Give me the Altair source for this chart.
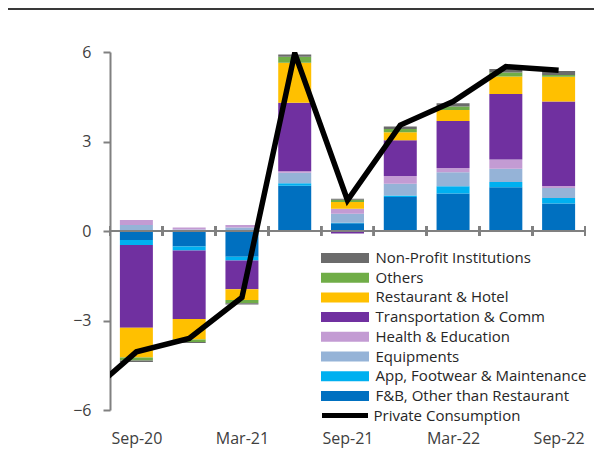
import json
import altair as alt
import pandas as pd

# ---- data ----
periods = ["Sep-20", "Dec-20", "Mar-21", "Jun-21", "Sep-21", "Dec-21", "Mar-22", "Jun-22", "Sep-22"]
shown_labels = ["Sep-20", "Mar-21", "Sep-21", "Mar-22", "Sep-22"]

fnb = [-0.30, -0.52, -0.86, 1.52, 0.26, 1.14, 1.26, 1.47, 0.92]
apparel = [-0.17, -0.13, -0.13, 0.08, 0.02, 0.05, 0.24, 0.17, 0.19]
equipments = [0.20, 0.05, 0.12, 0.35, 0.30, 0.39, 0.47, 0.45, 0.33]
health_edu = [0.17, 0.07, 0.08, 0.05, 0.17, 0.26, 0.14, 0.31, 0.07]
transport = [-2.77, -2.30, -0.96, 2.30, -0.08, 1.20, 1.58, 2.19, 2.83]
restaurant = [-1.00, -0.69, -0.36, 1.34, 0.22, 0.27, 0.37, 0.59, 0.83]
others = [-0.10, -0.08, -0.11, 0.20, 0.08, 0.11, 0.11, 0.13, 0.06]
non_profit = [-0.05, -0.03, -0.04, 0.08, 0.03, 0.08, 0.11, 0.12, 0.13]

line_periods = ["Jun-20", "Sep-20", "Dec-20", "Mar-21", "Jun-21", "Sep-21", "Dec-21", "Mar-22", "Jun-22", "Sep-22"]
private_consumption = [-5.60, -4.05, -3.60, -2.23, 5.96, 1.03, 3.55, 4.34, 5.51, 5.39]

# stacking order (bottom first) and legend order (top first)
components = [
    ("F&B, Other than Restaurant", fnb, "#0070C0"),
    ("App, Footwear & Maintenance", apparel, "#00B0F0"),
    ("Equipments", equipments, "#95B3D7"),
    ("Health & Education", health_edu, "#C39BD3"),
    ("Transportation & Comm", transport, "#7030A0"),
    ("Restaurant & Hotel", restaurant, "#FFC000"),
    ("Others", others, "#70AD47"),
    ("Non-Profit Institutions", non_profit, "#6B6B6B"),
]

rows = []
for rank, (name, vals, _c) in enumerate(components):
    for i, (p, v) in enumerate(zip(periods, vals)):
        rows.append({"period": p, "idx": i, "component": name, "value": v, "rank": rank})
bars_df = pd.DataFrame(rows)

legend_domain = [c[0] for c in components][::-1]
legend_range = [c[2] for c in components][::-1]

line_df = pd.DataFrame({"period": line_periods, "value": private_consumption,
                        "series": ["Private Consumption"] * len(line_periods)})

W, H = 475, 358
FONT = "Open Sans"
GRAY = "#808080"

x_scale = alt.Scale(domain=[-0.5, len(periods) - 0.5], nice=False, zero=False, padding=0)
y_scale = alt.Scale(domain=[-6, 6], nice=False, zero=False)

label_values = [periods.index(l) for l in shown_labels]
label_expr = f"{json.dumps(periods)}[datum.value]"

bars = alt.Chart(bars_df).mark_bar(size=33).encode(
    x=alt.X("idx:Q", scale=x_scale,
            axis=alt.Axis(values=label_values, labelExpr=label_expr, domain=False,
                          ticks=False, grid=False, labelAngle=0, labelPadding=20,
                          labelFontSize=16, labelFont=FONT, labelColor="#404040",
                          title=None)),
    y=alt.Y("value:Q", scale=y_scale, stack="zero",
            axis=alt.Axis(values=[-6, -3, 0, 3, 6], grid=False, title=None,
                          domainColor=GRAY, domainWidth=2, tickColor=GRAY, tickWidth=2,
                          tickSize=7, labelPadding=12, labelFontSize=16, labelFont=FONT,
                          labelColor="#404040")),
    color=alt.Color("component:N",
                    scale=alt.Scale(domain=legend_domain, range=legend_range),
                    legend=alt.Legend(orient="none", legendX=227.5, legendY=198.5, title=None,
                                      symbolType="M-4.8,-1H4.8V1H-4.8Z", symbolSize=100,
                                      symbolStrokeWidth=0, labelOffset=23, rowPadding=3.7,
                                      labelFontSize=15, labelFont=FONT, labelColor="#262626",
                                      padding=0, labelLimit=0)),
    order=alt.Order("rank:Q", sort="ascending"),
)

zero_rule = alt.Chart(bars_df).mark_rule(color=GRAY, strokeWidth=2).encode(
    y=alt.datum(0, scale=y_scale)
)

# small category-boundary ticks crossing the zero line (left and right edge of each category)
def boundary(expr):
    return alt.Chart(bars_df).transform_calculate(
        pos=expr
    ).mark_tick(orient="vertical", size=10, thickness=2, color=GRAY, opacity=1,
                filled=True).encode(
        x=alt.X("pos:Q", scale=x_scale),
        y=alt.datum(0, scale=y_scale),
    )

ticks_left = boundary("datum.idx - 0.5")
ticks_right = boundary("datum.idx + 0.5")

line = alt.Chart(line_df).transform_window(
    rn="row_number()"
).transform_calculate(
    idx="datum.rn - 2"
).mark_line(color="black", strokeWidth=5.5, clip=True).encode(
    x=alt.X("idx:Q", scale=x_scale),
    y=alt.Y("value:Q", scale=y_scale),
    stroke=alt.Stroke("series:N", scale=alt.Scale(range=["black"]),
                      legend=alt.Legend(orient="none", legendX=227.5, legendY=356, title=None,
                                        symbolType="M-4.6,0H4.6", symbolSize=100,
                                        symbolStrokeWidth=5, symbolStrokeColor="black",
                                        labelOffset=21, labelFontSize=15, labelFont=FONT,
                                        labelColor="#262626", padding=0, labelLimit=0)),
)

top_line = alt.Chart(line_df).mark_rule(color="#3a3a3a", strokeWidth=1.5).encode(
    x=alt.value(-102), x2=alt.value(484), y=alt.value(-43)
)

chart = alt.layer(bars, zero_rule, line, top_line, ticks_left, ticks_right).properties(
    width=W, height=H,
    autosize=alt.AutoSizeParams(type="none"),
    padding={"left": 102, "top": 44, "right": 9, "bottom": 48},
    background="white",
).configure_view(stroke=None)

chart.save("out.html", embed_options={"renderer": "svg", "actions": False})
